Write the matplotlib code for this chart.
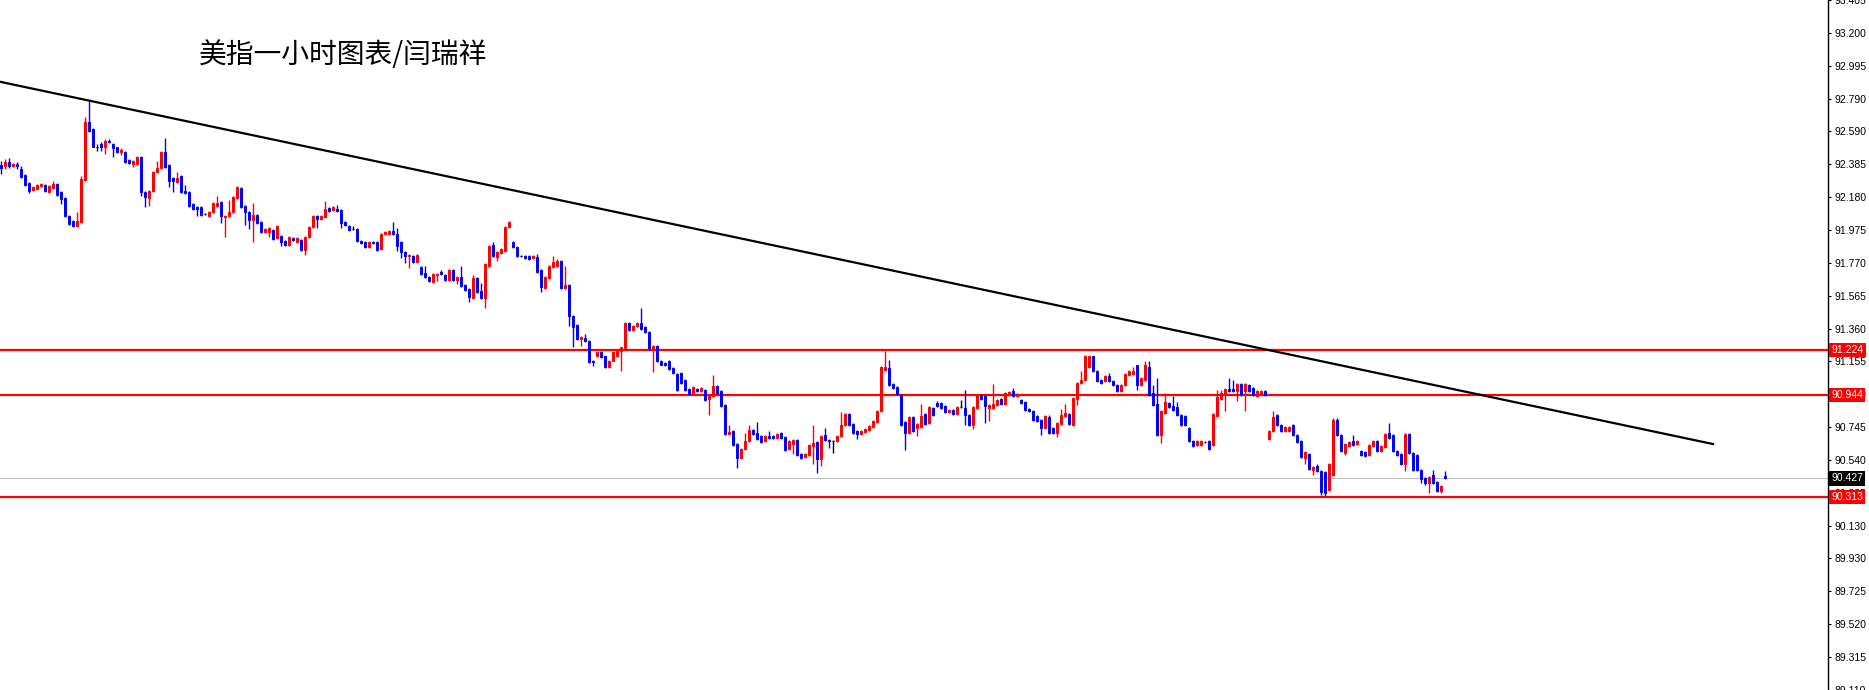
import numpy as np
import matplotlib
matplotlib.use("Agg")
import matplotlib.pyplot as plt

# 美元指数 1小时K线 (MT4 样式)
opens = [
    92.376, 92.370, 92.394, 92.370, 92.382, 92.351, 92.314, 92.264, 92.221, 92.227,
    92.246, 92.252, 92.208, 92.233, 92.258, 92.208, 92.171, 92.060, 92.029, 91.998,
    92.023, 92.283, 92.648, 92.605, 92.487, 92.506, 92.487, 92.530, 92.506, 92.487,
    92.456, 92.456, 92.407, 92.382, 92.382, 92.425, 92.208, 92.171, 92.215, 92.332,
    92.357, 92.456, 92.376, 92.295, 92.270, 92.308, 92.215, 92.208, 92.134, 92.115,
    92.115, 92.072, 92.060, 92.085, 92.122, 92.146, 92.057, 92.060, 92.085, 92.171,
    92.233, 92.122, 92.085, 92.035, 92.066, 92.023, 91.961, 91.961, 91.973, 91.923,
    91.936, 91.905, 91.880, 91.923, 91.899, 91.911, 91.849, 91.929, 91.991, 92.060,
    92.041, 92.054, 92.109, 92.097, 92.103, 92.097, 92.023, 91.998, 91.979, 91.979,
    91.905, 91.899, 91.868, 91.899, 91.899, 91.855, 91.948, 91.948, 91.967, 91.948,
    91.899, 91.836, 91.812, 91.812, 91.775, 91.744, 91.706, 91.682, 91.651, 91.694,
    91.713, 91.694, 91.663, 91.725, 91.663, 91.682, 91.632, 91.607, 91.552, 91.676,
    91.595, 91.552, 91.750, 91.880, 91.805, 91.830, 91.843, 91.991, 91.899, 91.868,
    91.812, 91.812, 91.812, 91.799, 91.805, 91.725, 91.614, 91.676, 91.744, 91.750,
    91.781, 91.614, 91.632, 91.440, 91.384, 91.297, 91.304, 91.285, 91.161, 91.186,
    91.217, 91.186, 91.118, 91.161, 91.192, 91.223, 91.236, 91.397, 91.353, 91.378,
    91.397, 91.372, 91.341, 91.229, 91.254, 91.161, 91.143, 91.161, 91.112, 91.075,
    91.081, 91.037, 90.982, 90.951, 90.982, 90.969, 90.975, 90.920, 90.938, 91.000,
    90.969, 90.882, 90.703, 90.721, 90.641, 90.554, 90.610, 90.659, 90.728, 90.709,
    90.690, 90.659, 90.690, 90.690, 90.678, 90.709, 90.684, 90.610, 90.641, 90.666,
    90.579, 90.560, 90.573, 90.628, 90.653, 90.548, 90.697, 90.666, 90.659, 90.659,
    90.690, 90.759, 90.827, 90.765, 90.721, 90.703, 90.715, 90.728, 90.746, 90.777,
    90.845, 91.099, 91.112, 91.012, 90.994, 90.944, 90.777, 90.709, 90.808, 90.740,
    90.746, 90.827, 90.771, 90.864, 90.895, 90.895, 90.876, 90.839, 90.851, 90.827,
    90.870, 90.864, 90.820, 90.759, 90.864, 90.944, 90.938, 90.864, 90.864, 90.882,
    90.920, 90.889, 90.944, 90.969, 90.938, 90.913, 90.901, 90.858, 90.845, 90.814,
    90.790, 90.740, 90.808, 90.740, 90.709, 90.765, 90.814, 90.827, 90.759, 90.920,
    91.019, 91.037, 91.118, 91.186, 91.093, 91.037, 91.031, 91.062, 91.031, 91.006,
    90.969, 91.006, 91.068, 91.074, 91.130, 91.006, 91.037, 91.118, 90.957, 90.889,
    90.697, 90.833, 90.895, 90.876, 90.870, 90.820, 90.814, 90.740, 90.659, 90.635,
    90.635, 90.653, 90.659, 90.635, 90.814, 90.920, 90.951, 90.982, 90.982, 90.969,
    91.012, 90.969, 91.006, 90.988, 90.938, 90.951, 90.969, 90.672, 90.721, 90.820,
    90.759, 90.721, 90.721, 90.759, 90.697, 90.659, 90.554, 90.579, 90.480, 90.505,
    90.474, 90.468, 90.356, 90.449, 90.790, 90.697, 90.585, 90.628, 90.659, 90.641,
    90.598, 90.591, 90.573, 90.628, 90.659, 90.598, 90.622, 90.709, 90.697, 90.598,
    90.579, 90.517, 90.703, 90.585, 90.573, 90.480, 90.430, 90.399, 90.449, 90.405,
    90.349, 90.443,
]
closes = [
    92.357, 92.394, 92.370, 92.382, 92.370, 92.301, 92.252, 92.215, 92.239, 92.252,
    92.258, 92.215, 92.246, 92.258, 92.190, 92.165, 92.060, 92.010, 91.998, 92.029,
    92.289, 92.648, 92.592, 92.493, 92.487, 92.487, 92.530, 92.518, 92.481, 92.456,
    92.469, 92.394, 92.388, 92.401, 92.425, 92.208, 92.177, 92.215, 92.332, 92.357,
    92.456, 92.364, 92.277, 92.277, 92.295, 92.208, 92.202, 92.122, 92.103, 92.103,
    92.066, 92.072, 92.085, 92.140, 92.140, 92.060, 92.063, 92.085, 92.177, 92.239,
    92.115, 92.085, 92.035, 92.066, 92.016, 91.961, 91.979, 91.985, 91.917, 91.998,
    91.899, 91.880, 91.929, 91.911, 91.923, 91.849, 91.929, 91.991, 92.060, 92.041,
    92.060, 92.103, 92.091, 92.115, 92.091, 92.016, 92.004, 91.973, 91.979, 91.905,
    91.892, 91.868, 91.899, 91.892, 91.849, 91.948, 91.961, 91.967, 91.948, 91.874,
    91.836, 91.812, 91.818, 91.775, 91.818, 91.700, 91.682, 91.657, 91.700, 91.700,
    91.700, 91.663, 91.725, 91.663, 91.682, 91.626, 91.601, 91.558, 91.676, 91.589,
    91.552, 91.762, 91.874, 91.812, 91.836, 91.855, 91.991, 92.023, 91.868, 91.812,
    91.812, 91.799, 91.793, 91.812, 91.713, 91.620, 91.682, 91.750, 91.775, 91.781,
    91.614, 91.632, 91.440, 91.372, 91.297, 91.310, 91.285, 91.149, 91.149, 91.211,
    91.180, 91.118, 91.161, 91.211, 91.223, 91.242, 91.397, 91.353, 91.378, 91.397,
    91.359, 91.341, 91.236, 91.254, 91.155, 91.136, 91.130, 91.105, 91.081, 90.975,
    91.019, 90.975, 90.951, 90.994, 90.969, 90.988, 90.913, 90.944, 91.000, 90.957,
    90.876, 90.703, 90.715, 90.635, 90.554, 90.610, 90.659, 90.728, 90.703, 90.672,
    90.653, 90.690, 90.678, 90.678, 90.703, 90.678, 90.604, 90.659, 90.666, 90.573,
    90.554, 90.579, 90.635, 90.647, 90.548, 90.690, 90.665, 90.659, 90.659, 90.690,
    90.759, 90.827, 90.759, 90.709, 90.703, 90.721, 90.734, 90.752, 90.783, 90.845,
    91.118, 91.118, 91.006, 90.988, 90.951, 90.759, 90.709, 90.808, 90.721, 90.765,
    90.814, 90.765, 90.870, 90.820, 90.876, 90.864, 90.839, 90.851, 90.827, 90.870,
    90.870, 90.820, 90.759, 90.870, 90.944, 90.920, 90.876, 90.882, 90.889, 90.913,
    90.889, 90.957, 90.963, 90.938, 90.951, 90.895, 90.851, 90.845, 90.790, 90.783,
    90.740, 90.814, 90.709, 90.709, 90.771, 90.820, 90.833, 90.765, 90.926, 91.019,
    91.037, 91.192, 91.186, 91.093, 91.031, 91.019, 91.062, 91.031, 91.006, 90.969,
    91.006, 91.074, 91.093, 91.093, 91.006, 91.050, 91.130, 90.944, 90.882, 90.697,
    90.845, 90.901, 90.870, 90.851, 90.820, 90.759, 90.759, 90.659, 90.628, 90.659,
    90.659, 90.653, 90.610, 90.827, 90.932, 90.957, 90.982, 90.969, 90.969, 91.012,
    90.951, 91.012, 90.969, 90.944, 90.969, 90.969, 90.944, 90.721, 90.808, 90.759,
    90.721, 90.746, 90.746, 90.697, 90.653, 90.560, 90.591, 90.486, 90.498, 90.474,
    90.343, 90.337, 90.517, 90.790, 90.697, 90.598, 90.641, 90.653, 90.635, 90.659,
    90.573, 90.567, 90.635, 90.659, 90.598, 90.628, 90.703, 90.678, 90.598, 90.573,
    90.517, 90.703, 90.585, 90.480, 90.480, 90.424, 90.399, 90.437, 90.399, 90.349,
    90.380, 90.427,
]
highs = [
    92.401, 92.413, 92.419, 92.388, 92.394, 92.370, 92.320, 92.270, 92.246, 92.258,
    92.264, 92.258, 92.252, 92.276, 92.264, 92.215, 92.177, 92.066, 92.035, 92.085,
    92.308, 92.679, 92.784, 92.611, 92.506, 92.524, 92.537, 92.537, 92.512, 92.493,
    92.481, 92.462, 92.413, 92.407, 92.431, 92.431, 92.215, 92.221, 92.339, 92.401,
    92.462, 92.549, 92.382, 92.301, 92.332, 92.314, 92.252, 92.215, 92.140, 92.122,
    92.122, 92.079, 92.091, 92.146, 92.184, 92.153, 92.066, 92.159, 92.184, 92.246,
    92.239, 92.128, 92.091, 92.140, 92.072, 92.029, 91.985, 91.991, 91.979, 92.004,
    91.942, 91.911, 91.936, 91.929, 91.929, 91.917, 91.936, 91.998, 92.066, 92.066,
    92.066, 92.153, 92.115, 92.122, 92.128, 92.103, 92.029, 92.004, 91.998, 91.985,
    91.911, 91.905, 91.905, 91.905, 91.905, 91.954, 91.967, 91.973, 92.023, 91.985,
    91.905, 91.843, 91.824, 91.818, 91.824, 91.750, 91.750, 91.688, 91.706, 91.706,
    91.725, 91.700, 91.731, 91.731, 91.688, 91.750, 91.638, 91.614, 91.694, 91.682,
    91.645, 91.768, 91.880, 91.899, 91.843, 91.861, 91.998, 92.029, 91.905, 91.874,
    91.818, 91.818, 91.818, 91.818, 91.824, 91.731, 91.688, 91.756, 91.812, 91.793,
    91.787, 91.750, 91.638, 91.446, 91.390, 91.316, 91.328, 91.291, 91.167, 91.217,
    91.223, 91.192, 91.167, 91.217, 91.229, 91.248, 91.403, 91.403, 91.384, 91.403,
    91.490, 91.378, 91.347, 91.260, 91.260, 91.167, 91.149, 91.167, 91.118, 91.081,
    91.087, 91.043, 90.988, 91.000, 90.988, 90.994, 90.982, 90.951, 91.068, 91.006,
    90.975, 90.889, 90.759, 90.728, 90.647, 90.616, 90.709, 90.759, 90.734, 90.777,
    90.697, 90.697, 90.721, 90.697, 90.709, 90.715, 90.690, 90.666, 90.672, 90.672,
    90.585, 90.585, 90.641, 90.759, 90.659, 90.697, 90.740, 90.672, 90.666, 90.697,
    90.839, 90.833, 90.833, 90.771, 90.728, 90.728, 90.740, 90.759, 90.790, 90.851,
    91.124, 91.223, 91.167, 91.019, 91.000, 90.951, 90.783, 90.814, 90.814, 90.771,
    90.889, 90.833, 90.876, 90.870, 90.907, 90.901, 90.882, 90.858, 90.858, 90.876,
    90.913, 90.975, 90.827, 90.876, 90.951, 90.951, 90.944, 90.889, 91.012, 90.920,
    90.926, 90.963, 90.969, 90.988, 90.957, 90.920, 90.907, 90.864, 90.851, 90.820,
    90.796, 90.820, 90.820, 90.746, 90.777, 90.858, 90.889, 90.833, 90.932, 91.025,
    91.093, 91.198, 91.192, 91.192, 91.099, 91.043, 91.068, 91.081, 91.037, 91.012,
    91.012, 91.081, 91.099, 91.118, 91.136, 91.056, 91.155, 91.155, 91.006, 91.050,
    90.851, 90.957, 90.901, 90.938, 90.901, 90.827, 90.820, 90.746, 90.666, 90.666,
    90.666, 90.659, 90.666, 90.833, 90.975, 90.975, 90.988, 91.050, 91.037, 91.019,
    91.019, 91.019, 91.012, 90.994, 90.975, 90.975, 90.975, 90.728, 90.845, 90.827,
    90.765, 90.752, 90.752, 90.765, 90.703, 90.666, 90.598, 90.585, 90.505, 90.517,
    90.480, 90.474, 90.523, 90.802, 90.802, 90.703, 90.647, 90.659, 90.697, 90.666,
    90.604, 90.598, 90.641, 90.666, 90.666, 90.635, 90.709, 90.771, 90.703, 90.604,
    90.585, 90.709, 90.709, 90.591, 90.579, 90.486, 90.437, 90.443, 90.480, 90.412,
    90.387, 90.474,
]
lows = [
    92.320, 92.351, 92.357, 92.364, 92.351, 92.295, 92.246, 92.202, 92.215, 92.221,
    92.239, 92.208, 92.202, 92.227, 92.184, 92.134, 92.054, 92.004, 91.991, 91.991,
    92.016, 92.276, 92.586, 92.487, 92.462, 92.462, 92.444, 92.512, 92.425, 92.450,
    92.438, 92.388, 92.382, 92.364, 92.376, 92.184, 92.115, 92.122, 92.208, 92.326,
    92.351, 92.357, 92.239, 92.208, 92.264, 92.202, 92.196, 92.115, 92.097, 92.060,
    92.060, 92.066, 92.054, 92.079, 92.115, 92.016, 91.929, 92.054, 92.079, 92.165,
    92.109, 92.004, 91.979, 91.899, 92.010, 91.954, 91.954, 91.929, 91.911, 91.917,
    91.874, 91.874, 91.874, 91.905, 91.892, 91.843, 91.818, 91.923, 91.985, 91.985,
    92.035, 92.047, 92.085, 92.091, 92.085, 91.985, 91.998, 91.967, 91.973, 91.899,
    91.886, 91.861, 91.861, 91.886, 91.843, 91.849, 91.942, 91.942, 91.942, 91.843,
    91.799, 91.768, 91.737, 91.768, 91.768, 91.694, 91.676, 91.651, 91.645, 91.657,
    91.694, 91.657, 91.657, 91.657, 91.638, 91.620, 91.595, 91.527, 91.545, 91.583,
    91.545, 91.490, 91.744, 91.805, 91.781, 91.824, 91.836, 91.985, 91.861, 91.805,
    91.805, 91.793, 91.787, 91.793, 91.706, 91.589, 91.607, 91.669, 91.737, 91.744,
    91.607, 91.607, 91.378, 91.248, 91.291, 91.254, 91.279, 91.143, 91.124, 91.180,
    91.174, 91.112, 91.112, 91.155, 91.186, 91.093, 91.229, 91.347, 91.347, 91.372,
    91.353, 91.335, 91.229, 91.087, 91.149, 91.130, 91.124, 91.099, 91.074, 90.969,
    91.012, 90.969, 90.944, 90.944, 90.963, 90.963, 90.907, 90.820, 90.932, 90.951,
    90.870, 90.697, 90.697, 90.628, 90.492, 90.548, 90.604, 90.653, 90.697, 90.666,
    90.647, 90.653, 90.672, 90.672, 90.672, 90.672, 90.598, 90.604, 90.579, 90.567,
    90.548, 90.554, 90.567, 90.517, 90.461, 90.505, 90.659, 90.616, 90.585, 90.653,
    90.684, 90.752, 90.752, 90.703, 90.672, 90.697, 90.709, 90.721, 90.740, 90.771,
    90.839, 91.093, 91.000, 90.982, 90.944, 90.752, 90.604, 90.703, 90.715, 90.690,
    90.740, 90.759, 90.765, 90.814, 90.870, 90.858, 90.833, 90.833, 90.820, 90.820,
    90.864, 90.759, 90.752, 90.734, 90.858, 90.913, 90.771, 90.783, 90.858, 90.876,
    90.882, 90.882, 90.938, 90.932, 90.932, 90.889, 90.845, 90.839, 90.783, 90.777,
    90.697, 90.734, 90.703, 90.703, 90.684, 90.759, 90.808, 90.759, 90.752, 90.882,
    91.012, 91.031, 91.112, 91.087, 91.025, 91.012, 91.025, 91.025, 91.000, 90.963,
    90.963, 91.000, 91.062, 91.068, 90.975, 91.000, 91.031, 90.938, 90.876, 90.690,
    90.647, 90.827, 90.864, 90.845, 90.814, 90.752, 90.752, 90.653, 90.622, 90.628,
    90.628, 90.647, 90.604, 90.628, 90.808, 90.913, 90.845, 90.963, 90.963, 90.907,
    90.938, 90.845, 90.963, 90.938, 90.932, 90.944, 90.938, 90.666, 90.715, 90.752,
    90.715, 90.715, 90.715, 90.690, 90.647, 90.554, 90.517, 90.480, 90.449, 90.468,
    90.325, 90.318, 90.349, 90.443, 90.690, 90.591, 90.573, 90.622, 90.628, 90.635,
    90.567, 90.560, 90.567, 90.622, 90.591, 90.591, 90.616, 90.672, 90.591, 90.567,
    90.511, 90.474, 90.579, 90.474, 90.474, 90.399, 90.387, 90.337, 90.393, 90.343,
    90.337, 90.424,
]

# 水平支撑/阻力线与当前价
levels = [91.224, 90.944, 90.313]
current_price = 90.427

# 下降趋势线 (K线序号, 价格)
trend_x = [-0.25, 428]
trend_y = [92.896, 90.641]

yticks = [93.405, 93.200, 92.995, 92.790, 92.590, 92.385, 92.180, 91.975,
          91.770, 91.565, 91.360, 91.155, 90.950, 90.745, 90.540, 90.335,
          90.130, 89.930, 89.725, 89.520, 89.315, 89.110]

title = "美指一小时图表/闫瑞祥"

UP = "#ff0000"
DOWN = "#0000ff"
DOJI = "#000000"

o = np.array(opens)
c = np.array(closes)
h = np.array(highs)
l = np.array(lows)
x = np.arange(len(o))
colors = np.where(c > o, UP, np.where(c < o, DOWN, DOJI))

fig = plt.figure(figsize=(18.69, 6.90), dpi=100)
ax = fig.add_axes([0, 0, 1828 / 1869, 1])

# 水平线
for lv in levels:
    ax.axhline(lv, color="#ff0000", linewidth=1.6, zorder=1)
ax.axhline(current_price, color="#c0c0c0", linewidth=0.8, zorder=1)

# K线
ax.vlines(x, l, h, colors=colors, linewidth=1.0, zorder=2)
ax.bar(x, np.abs(c - o), bottom=np.minimum(o, c), width=0.72,
       color=colors, edgecolor=colors, linewidth=0.7, zorder=2)

# 趋势线
ax.plot(trend_x, trend_y, color="black", linewidth=1.6, zorder=3)

ax.set_xlim(-0.25, 456.75)
ax.set_ylim(89.129, 93.404)

for side in ["left", "top", "bottom"]:
    ax.spines[side].set_visible(False)
ax.spines["right"].set_color("black")
ax.spines["right"].set_linewidth(1.0)
ax.set_xticks([])
ax.yaxis.tick_right()
ax.set_yticks(yticks)
ax.set_yticklabels([f"{v:.3f}" for v in yticks], family="Liberation Sans", fontsize=7.5)
ax.tick_params(axis="y", direction="out", length=2.5, width=0.8, pad=2, colors="black")

# 价格标签
for lv in levels:
    ax.annotate(f"{lv:.3f}", xy=(1, lv), xycoords=ax.get_yaxis_transform(),
                xytext=(2.5, 0), textcoords="offset points", ha="left", va="center",
                fontsize=7.5, family="Liberation Sans", color="white", zorder=5,
                annotation_clip=False,
                bbox=dict(boxstyle="square,pad=0.2", fc="#ff0000", ec="none"))
ax.annotate(f"{current_price:.3f}", xy=(1, current_price), xycoords=ax.get_yaxis_transform(),
            xytext=(2.5, 0), textcoords="offset points", ha="left", va="center",
            fontsize=7.5, family="Liberation Sans", color="white", zorder=5,
            annotation_clip=False,
            bbox=dict(boxstyle="square,pad=0.2", fc="black", ec="none"))

fig.text(199 / 1869, 1 - 55 / 690, title, ha="left", va="center", fontsize=20,
         family=["Noto Sans CJK SC", "DejaVu Sans"], color="black")

fig.savefig("out.png", dpi=100, facecolor="white")
